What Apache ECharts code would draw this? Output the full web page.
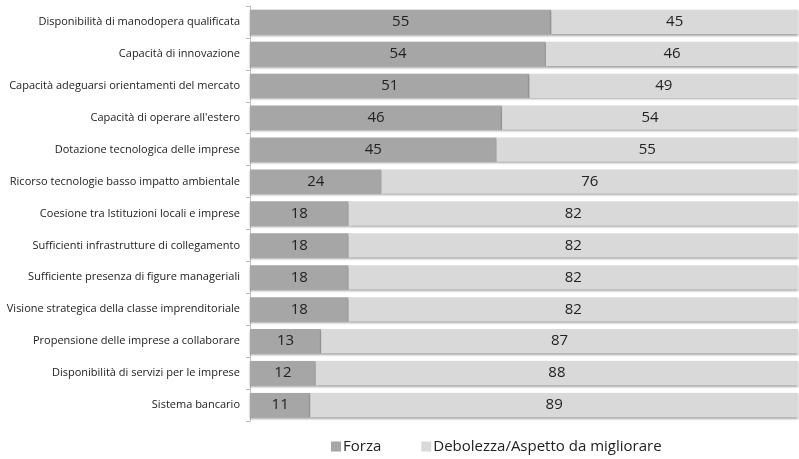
<!DOCTYPE html>
<html>
<head>
<meta charset="utf-8">
<script src="https://cdn.jsdelivr.net/npm/echarts@6/dist/echarts.min.js"></script>
<style>
  html, body { margin: 0; padding: 0; background: #fff; }
  #chart { width: 799px; height: 459px; }
</style>
</head>
<body>
<div id="chart"></div>
<script>
// data (top to bottom as in the picture)
var categories = [
    "Disponibilità di manodopera qualificata",
    "Capacità di innovazione",
    "Capacità adeguarsi orientamenti del mercato",
    "Capacità di operare all'estero",
    "Dotazione tecnologica delle imprese",
    "Ricorso tecnologie basso impatto ambientale",
    "Coesione tra Istituzioni locali e imprese",
    "Sufficienti infrastrutture di collegamento",
    "Sufficiente presenza di figure manageriali",
    "Visione strategica della classe imprenditoriale",
    "Propensione delle imprese a collaborare",
    "Disponibilità di servizi per le imprese",
    "Sistema bancario"
];
var forza = [55, 54, 51, 46, 45, 24, 18, 18, 18, 18, 13, 12, 11];
var debolezza = [45, 46, 49, 54, 55, 76, 82, 82, 82, 82, 87, 88, 89];
var seriesNames = ["Forza", "Debolezza/Aspetto da migliorare"];

var myChart = echarts.init(document.getElementById("chart"));

function barSeries(name, data, color) {
    return {
        name: name,
        type: "bar",
        stack: "tot",
        barWidth: "76%",
        data: data,
        itemStyle: {
            color: color,
            shadowColor: "rgba(0,0,0,0.35)",
            shadowBlur: 2,
            shadowOffsetY: 1.5
        },
        label: {
            show: true,
            position: "inside",
            color: "#222",
            fontSize: 15,
            fontFamily: "Open Sans"
        }
    };
}

var option = {
    animation: false,
    grid: { left: 250, right: 1, top: 6, bottom: 38 },
    legend: {
        bottom: 0,
        left: 326,
        itemWidth: 10,
        itemHeight: 10,
        itemGap: 40,
        icon: "rect",
        textStyle: { fontSize: 15, color: "#222", fontFamily: "Open Sans", padding: [0, 0, 0, -3] },
        data: seriesNames
    },
    xAxis: {
        type: "value",
        min: 0,
        max: 100,
        show: false
    },
    yAxis: {
        type: "category",
        inverse: true,
        data: categories,
        axisLine: { lineStyle: { color: "#bdbdbd" } },
        axisTick: { show: true, length: 4, lineStyle: { color: "#bdbdbd" } },
        axisLabel: { fontSize: 11, color: "#222", fontFamily: "Open Sans", margin: 10 }
    },
    series: [
        barSeries(seriesNames[0], forza, "#a6a6a6"),
        barSeries(seriesNames[1], debolezza, "#d9d9d9")
    ]
};

myChart.setOption(option);
</script>
</body>
</html>
